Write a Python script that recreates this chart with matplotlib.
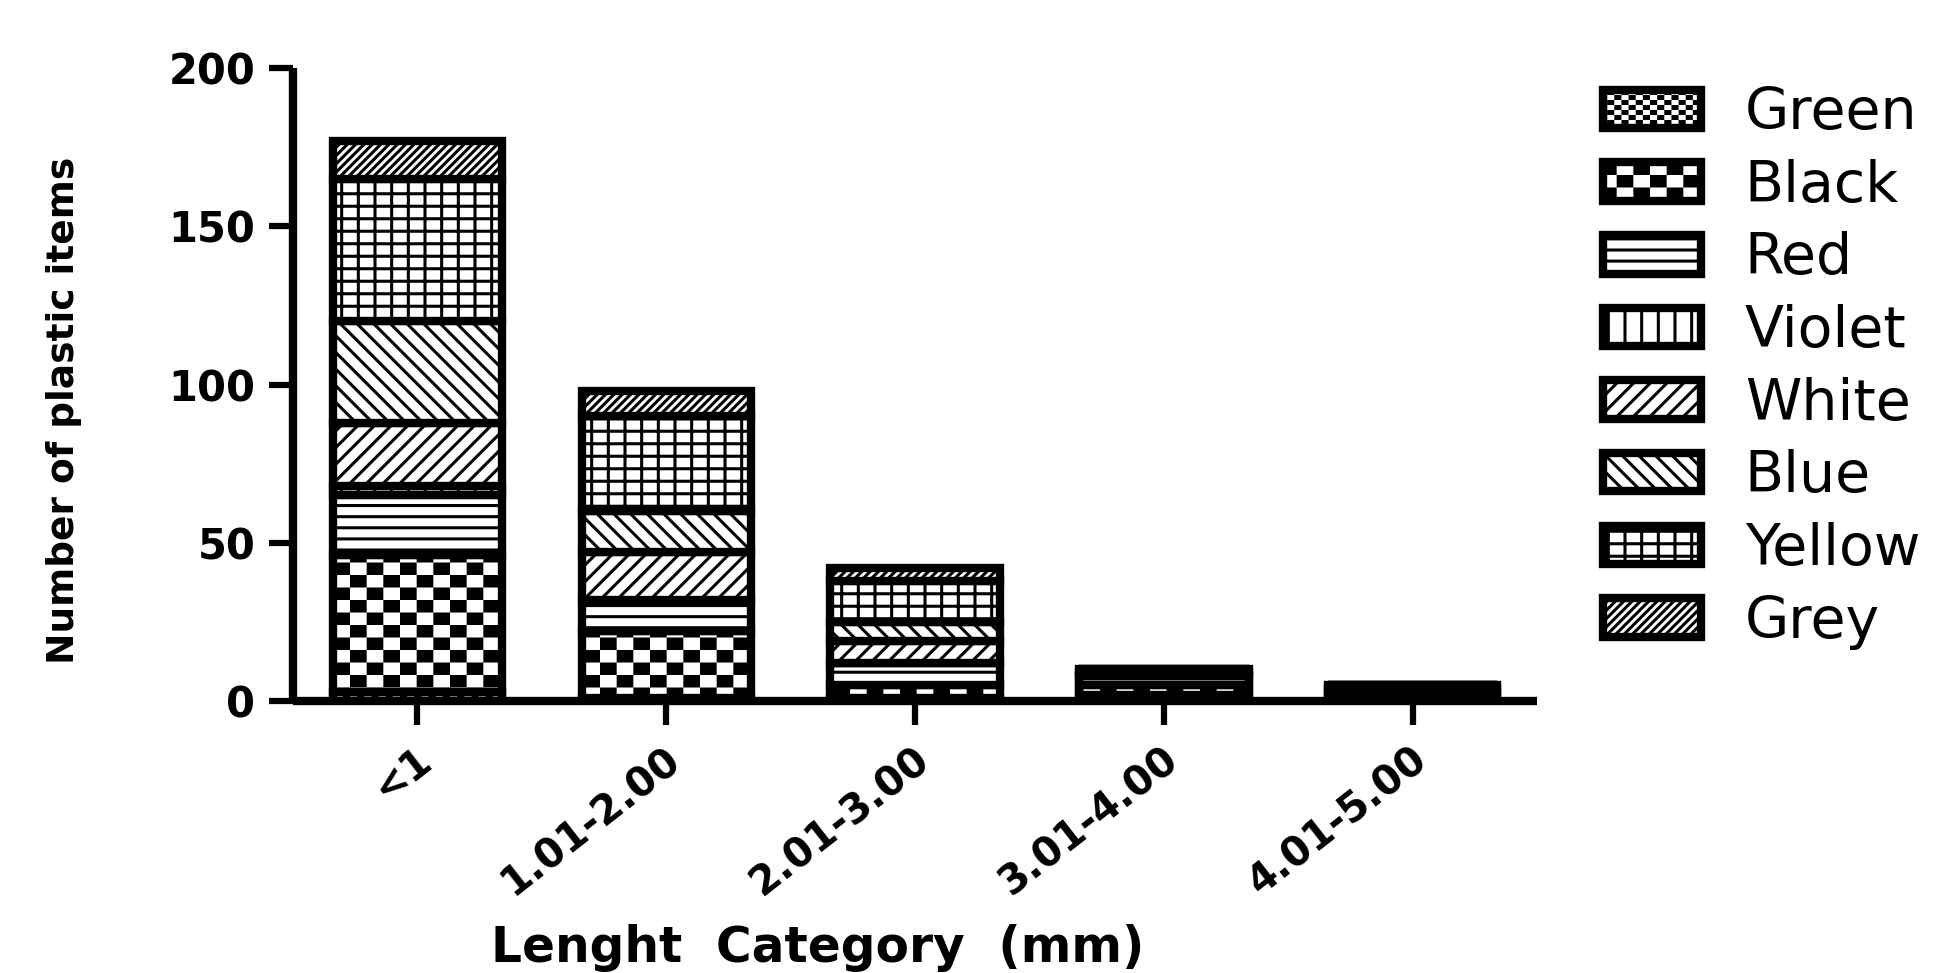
import warnings
import numpy as np
import matplotlib
matplotlib.use("Agg")
import matplotlib.pyplot as plt
import matplotlib.hatch as mhatch
import matplotlib.transforms as mtransforms
from matplotlib.path import Path

warnings.filterwarnings("ignore")

# ---------------- data ----------------
categories = ['<1', '1.01-2.00', '2.01-3.00', '3.01-4.00', '4.01-5.00']
series_names = ['Green', 'Black', 'Red', 'Violet', 'White', 'Blue', 'Yellow', 'Grey']
green = [3, 1, 1, 2, 1]
black = [43, 21, 4, 3, 2]
red = [19, 10, 7, 3, 1]
violet = [3, 0, 0, 0, 0]
white = [20, 15, 7, 1, 1]
blue = [32, 13, 6, 1, 0]
yellow = [45, 30, 13, 0, 0]
grey = [12, 8, 4, 0, 0]
series_values = [green, black, red, violet, white, blue, yellow, grey]
y_ticks = [0, 50, 100, 150, 200]

# ---------------- custom hatches ----------------
HATCH_LW = 2.2  # points
plt.rcParams['hatch.linewidth'] = HATCH_LW
plt.rcParams['hatch.color'] = 'black'


class CheckerHatch(mhatch.HatchPatternBase):
    """'c' -> large checkerboard, 'k' -> small checkerboard."""

    def __init__(self, hatch, density):
        if 'c' in hatch:
            self.nx, self.ny = 6, 8
        elif 'k' in hatch:
            self.nx, self.ny = 14, 20
        else:
            self.nx, self.ny = 0, 0
        self.num_vertices = (self.nx * self.ny // 2) * 5

    def set_vertices_and_codes(self, vertices, codes):
        dx, dy = 1.0 / self.nx, 1.0 / self.ny
        inset = (HATCH_LW / 72.0) / 2.0
        k = 0
        for i in range(self.nx):
            for j in range(self.ny):
                if (i + j) % 2:
                    continue
                x0, y0 = i * dx + inset, j * dy + inset
                x1, y1 = (i + 1) * dx - inset, (j + 1) * dy - inset
                vertices[k:k + 5] = [[x0, y0], [x1, y0], [x1, y1], [x0, y1], [x0, y0]]
                codes[k:k + 5] = [Path.MOVETO, Path.LINETO, Path.LINETO,
                                  Path.LINETO, Path.CLOSEPOLY]
                k += 5


class LineGridHatch(mhatch.HatchPatternBase):
    """'h' -> 9 horizontal lines per unit, 'g' -> grid 6 vertical x 8 horizontal."""

    def __init__(self, hatch, density):
        self.nh, self.nv = 0, 0
        if 'h' in hatch:
            self.nh = 9
        if 'g' in hatch:
            self.nh, self.nv = 8, 6
        self.num_vertices = 2 * (self.nh + self.nv)

    def set_vertices_and_codes(self, vertices, codes):
        k = 0
        for i in range(self.nh):
            y = (i + 0.5) / self.nh
            vertices[k] = [0.0, y]
            vertices[k + 1] = [1.0, y]
            codes[k] = Path.MOVETO
            codes[k + 1] = Path.LINETO
            k += 2
        for i in range(self.nv):
            xx = (i + 0.5) / self.nv
            vertices[k] = [xx, 0.0]
            vertices[k + 1] = [xx, 1.0]
            codes[k] = Path.MOVETO
            codes[k + 1] = Path.LINETO
            k += 2


mhatch._hatch_types.append(CheckerHatch)
mhatch._hatch_types.append(LineGridHatch)
mhatch._validate_hatch_pattern = lambda h: None

hatches = ['k', 'c', 'h', '|', '//', '\\\\', 'g', '////']

# ---------------- figure ----------------
plt.rcParams['font.family'] = ['DejaVu Sans']
fig = plt.figure(figsize=(19.36, 9.73), dpi=100)
ax = fig.add_axes([0.1513, 0.2795, 0.6427, 0.6505])

x = np.arange(len(categories))
bottom = np.zeros(len(categories))
EDGE_LW = 6.0
containers = []
for name, vals, h in zip(series_names, series_values, hatches):
    vals = np.array(vals, dtype=float)
    bc = ax.bar(x, vals, width=0.68, bottom=bottom, color='white',
                edgecolor='black', linewidth=EDGE_LW, hatch=h, label=name,
                zorder=2)
    containers.append(bc)
    bottom += vals

ax.set_xlim(-0.5, len(categories) - 0.5)
ax.set_ylim(0, 200)
ax.set_yticks(y_ticks)
ax.set_xticks(x)
ax.set_xticklabels(categories, rotation=38, ha='right', va='center',
                   rotation_mode='anchor', fontsize=29, fontweight='bold')
ax.tick_params(axis='x', length=17, width=4.5, pad=22)
ax.tick_params(axis='y', length=17, width=4.5, pad=10, labelsize=30)
for lab in ax.get_yticklabels():
    lab.set_fontweight('bold')
offset = mtransforms.ScaledTranslation(0.10, 0, fig.dpi_scale_trans)
for lab in ax.get_xticklabels():
    lab.set_transform(lab.get_transform() + offset)

for s in ['top', 'right']:
    ax.spines[s].set_visible(False)
for s in ['left', 'bottom']:
    ax.spines[s].set_linewidth(6)
    ax.spines[s].set_capstyle('butt')

fig.text(64 / 1936, 1 - 410 / 973, 'Number of plastic items', rotation=90,
         ha='center', va='center', fontsize=27, fontweight='bold')
fig.text(818 / 1936, 1 - 948 / 973, 'Lenght  Category  (mm)', ha='center',
         va='center', fontsize=35, fontweight='bold')

# legend (top entry = bottom of stack)
fig.legend(handles=containers, labels=series_names, loc='upper left',
           bbox_to_anchor=(1603 / 1936, 1 - 86 / 973), frameon=False,
           fontsize=41, handlelength=1.72, handleheight=0.66,
           handletextpad=0.77, labelspacing=0.31, borderpad=0,
           borderaxespad=0)

fig.savefig('out.png', dpi=100)
